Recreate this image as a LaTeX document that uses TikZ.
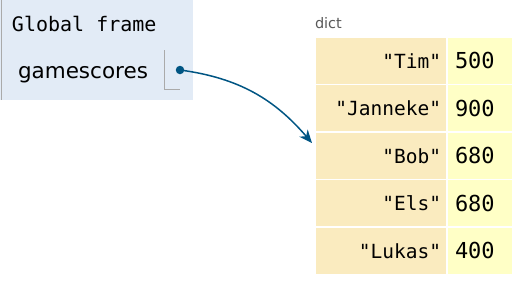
\documentclass[tikz,border=0pt]{standalone}
\usepackage{fontspec}
\setmainfont{DejaVu Sans}
\setmonofont{DejaVu Sans Mono}
\usepackage{xcolor}
\usetikzlibrary{arrows.meta, positioning, calc}
\definecolor{framebg}{HTML}{E2EBF6}
\definecolor{keybg}{HTML}{FAEBBF}
\definecolor{valbg}{HTML}{FFFFC6}
\definecolor{ptrblue}{HTML}{005583}
\definecolor{edgegray}{HTML}{AAAAAA}

\begin{document}
\begin{tikzpicture}[x=1pt, y=-1pt,
    every node/.style={inner sep=0pt, outer sep=0pt},
    monotxt/.style={font=\fontsize{20}{24}\selectfont\ttfamily},
    keycell/.style={rectangle, draw=white, line width=1.5pt, fill=keybg,
        minimum height=47.5pt, text width=120pt, inner xsep=6pt, align=right,
        font=\fontsize{19.5}{24}\selectfont\ttfamily},
    valcell/.style={rectangle, draw=white, line width=1.5pt, fill=valbg,
        minimum height=47.5pt, text width=50pt, inner xsep=8pt, align=left,
        font=\fontsize{22}{26}\selectfont\ttfamily}]
    \useasboundingbox (0,0) rectangle (512,282);

    % global frame
    \fill[framebg] (0,0) rectangle (193,100);
    \draw[edgegray] (1,0) -- (1,100);
    \node[monotxt, anchor=base west] (frametitle) at (12,31) {Global frame};
    \node[anchor=base west, font=\fontsize{21.5}{25}\selectfont] (varname) at (18,78) {gamescores};
    \draw[edgegray] (164,50) -- (164,89.5) -- (180,89.5);
    \node[circle, fill=ptrblue, minimum size=8.5pt] (ptrdot) at (180,70) {};

    % dict object
    \node[anchor=base west, text=black!65, font=\fontsize{14.5}{17}\selectfont] (dictlabel) at (315,28.5) {dict};
    \foreach \key/\val [count=\i] in {Tim/500, Janneke/900, Bob/680, Els/680, Lukas/400} {
        \node[keycell] (k\i) at (381, {37+47.5*(\i-0.5)}) {"\key"};
        \node[valcell, right=0pt of k\i] (v\i) {\val};
    }

    \coordinate (dicttip) at (312,143);
    \draw[ptrblue, line width=1.5pt, -{Stealth[length=13pt, width=11pt, inset=4pt]}]
        (ptrdot.center) .. controls (240,78) and (275,100) .. (dicttip);
\end{tikzpicture}
\end{document}
